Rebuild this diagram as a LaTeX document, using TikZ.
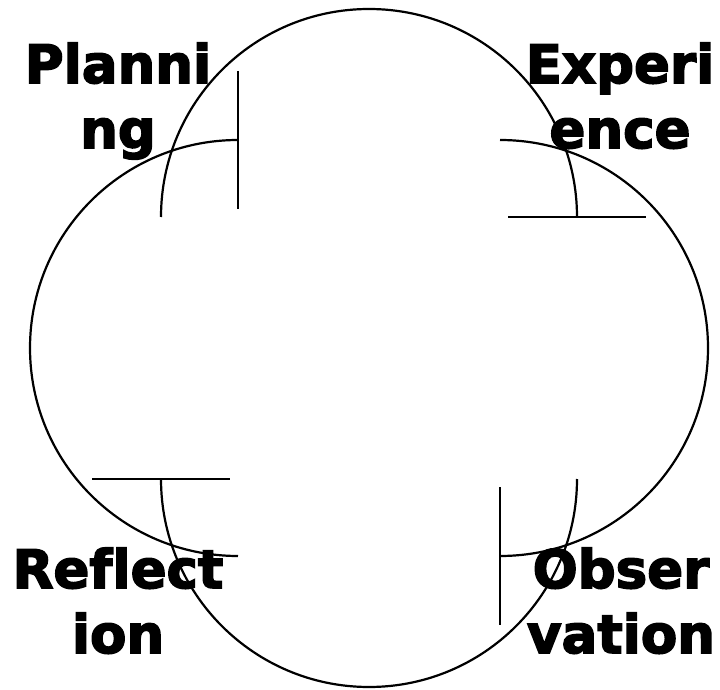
\documentclass[tikz,border=0pt]{standalone}
\usepackage{fontspec}
\newfontfamily\lblfont[Ligatures=NoCommon,BoldFeatures={FakeBold=3}]{DejaVu Sans}
\begin{document}
\begin{tikzpicture}[x=1pt,y=1pt,
  cyc/.style={line width=2.2pt, black},
  lbl/.style={font=\lblfont\bfseries\fontsize{53}{65}\selectfont, inner sep=0pt, anchor=base}]
\useasboundingbox (0,0) rectangle (720,689);
% arc start points
\coordinate (ts) at (161,472);
\coordinate (rs) at (500,549);
\coordinate (bs) at (577,210);
\coordinate (ls) at (238,133);
% arcs (radius 208)
\draw[cyc] (ts) arc[start angle=180, end angle=0, radius=208] coordinate (te);
\draw[cyc] (rs) arc[start angle=90, end angle=-90, radius=208] coordinate (re);
\draw[cyc] (bs) arc[start angle=0, end angle=-180, radius=208] coordinate (be);
\draw[cyc] (ls) arc[start angle=270, end angle=90, radius=208] coordinate (le);
% bars at arc ends
\draw[cyc] ([yshift=69pt]le) -- ([yshift=-69pt]le);
\draw[cyc] ([xshift=-69pt]te) -- ([xshift=69pt]te);
\draw[cyc] ([yshift=69pt]re) -- ([yshift=-69pt]re);
\draw[cyc] ([xshift=-69pt]be) -- ([xshift=69pt]be);
% labels
\node[lbl] (p1) at (118,606) {Planni};
\node[lbl] (p2) at (118,541) {ng};
\node[lbl] (e1) at (620,606) {Experi};
\node[lbl] (e2) at (620,541) {ence};
\node[lbl] (r1) at (118,101) {Reflect};
\node[lbl] (r2) at (118,36) {ion};
\node[lbl] (o1) at (621,101) {Obser};
\node[lbl] (o2) at (621,36) {vation};
\end{tikzpicture}
\end{document}
